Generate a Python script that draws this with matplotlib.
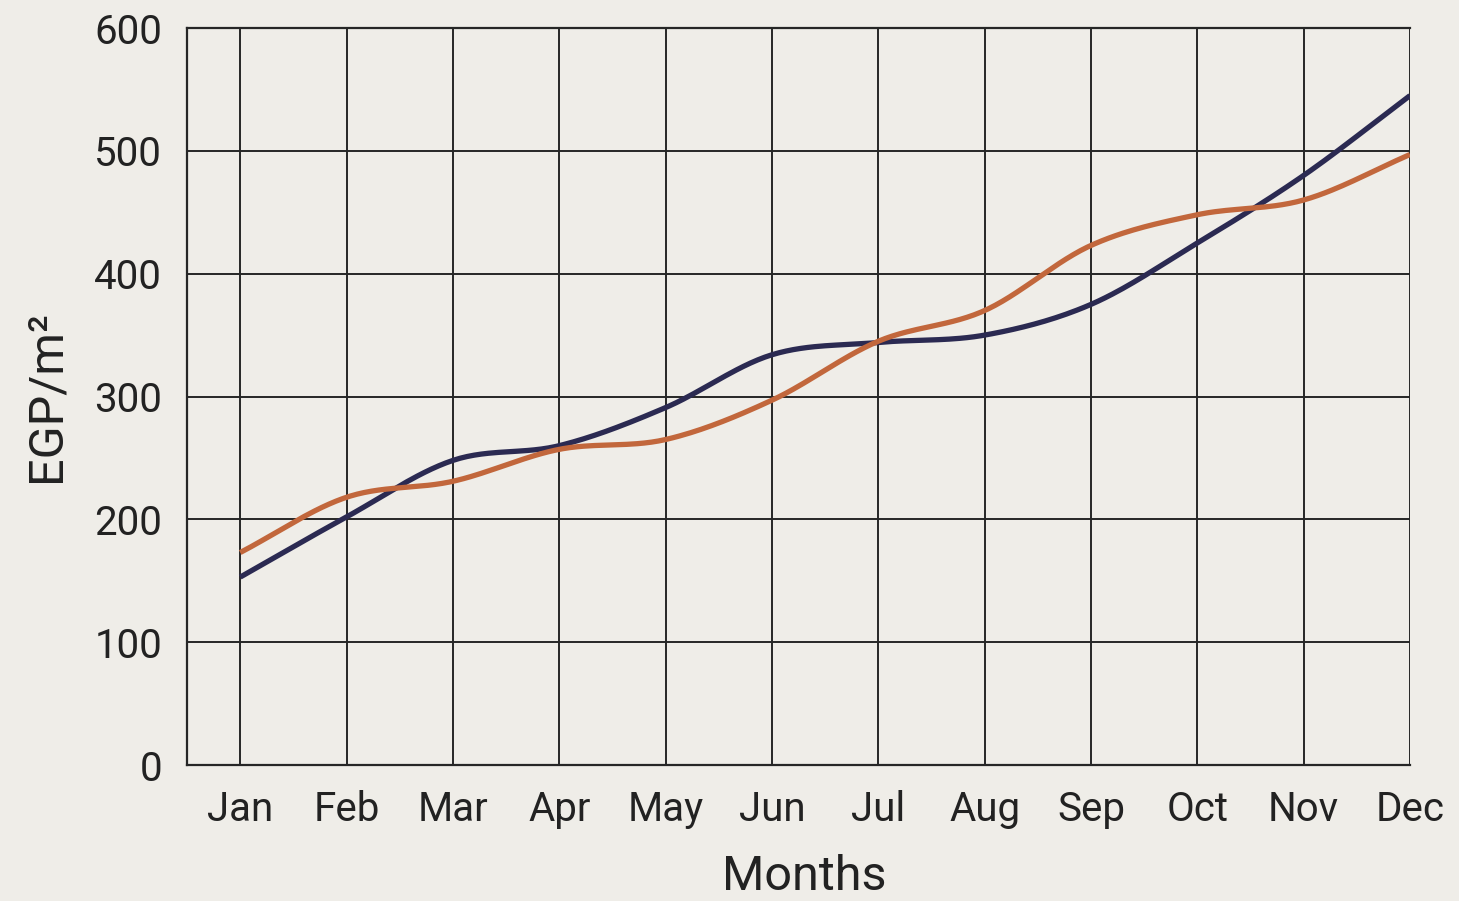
import numpy as np
import matplotlib
matplotlib.use("Agg")
import matplotlib.pyplot as plt

months = ["Jan", "Feb", "Mar", "Apr", "May", "Jun", "Jul", "Aug", "Sep", "Oct", "Nov", "Dec"]
navy_values = [153, 202, 248, 260, 291, 334, 344, 350, 375, 425, 480, 545]
orange_values = [173, 218, 231, 257, 265, 297, 345, 370, 423, 448, 460, 497]
y_ticks = [0, 100, 200, 300, 400, 500, 600]

plt.rcParams['font.family'] = ['Roboto', 'DejaVu Sans']

BG = "#efede8"


def smooth(x, y, n=30):
    """Catmull-Rom curve through the data points (render-only smoothing)."""
    x = np.asarray(x, float)
    y = np.asarray(y, float)
    px = np.concatenate([[2 * x[0] - x[1]], x, [2 * x[-1] - x[-2]]])
    py = np.concatenate([[2 * y[0] - y[1]], y, [2 * y[-1] - y[-2]]])
    xs, ys = [], []
    t = np.linspace(0, 1, n, endpoint=False)
    for i in range(1, len(px) - 2):
        for arr, out in ((px, xs), (py, ys)):
            p0, p1, p2, p3 = arr[i - 1], arr[i], arr[i + 1], arr[i + 2]
            out.extend(0.5 * ((2 * p1) + (-p0 + p2) * t
                              + (2 * p0 - 5 * p1 + 4 * p2 - p3) * t ** 2
                              + (-p0 + 3 * p1 - 3 * p2 + p3) * t ** 3))
    xs.append(x[-1]); ys.append(y[-1])
    return np.array(xs), np.array(ys)


fig = plt.figure(figsize=(14.59, 9.01), dpi=100, facecolor=BG)
ax = fig.add_axes([0.1282, 0.1509, 0.9664 - 0.1282, 0.9689 - 0.1509])
ax.set_facecolor(BG)

x = np.arange(len(months))
sx, sy = smooth(x, navy_values)
ax.plot(sx, sy, color="#2b2a52", lw=3.8, solid_capstyle="butt", zorder=3)
sx, sy = smooth(x, orange_values)
ax.plot(sx, sy, color="#c2673c", lw=3.8, solid_capstyle="butt", zorder=3)

ax.set_xlim(-0.5, 11)
ax.set_ylim(0, 600)
ax.set_xticks(x)
ax.set_xticklabels(months)
ax.set_yticks(y_ticks)
ax.grid(True, color="#262626", lw=1.4, zorder=1)
ax.set_axisbelow(True)
for side in ["left", "bottom", "top"]:
    ax.spines[side].set_color("#262626")
    ax.spines[side].set_linewidth(1.6)
ax.spines["right"].set_visible(False)
ax.tick_params(length=0, labelsize=29, colors="#222222")
ax.tick_params(axis="x", pad=18)
ax.tick_params(axis="y", pad=18)
ax.set_xlabel("Months", fontsize=35, color="#222222", labelpad=22)
ax.set_ylabel("EGP/m²", fontsize=35, color="#222222", labelpad=18)
ax.xaxis.set_label_coords(0.505, -0.121)

fig.savefig("out.png", dpi=100, facecolor=BG)
